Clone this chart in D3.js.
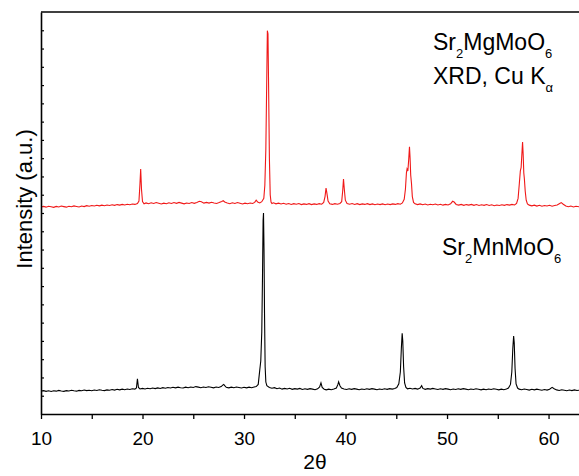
<html>
<head>
  <meta charset="UTF-8">
  <title>XRD Sr2MgMoO6 / Sr2MnMoO6</title>
  <script src="https://d3js.org/d3.v7.min.js"></script>
  <style>
    body { margin: 0; background: white; }
    text { font-family: Arial, "Liberation Sans", sans-serif; fill: black; }
  </style>
</head>
<body>
<svg id="chart"></svg>
<script>

    // 2theta / intensity (a.u., red trace is already offset upward in the figure)
    let mnPattern = [
        [10.0,1.25],[10.25,1.28],[10.5,1.24],[10.75,1.27],[11.0,1.23],[11.25,1.27],[11.5,1.25],[11.75,1.29],
        [12.0,1.26],[12.25,1.24],[12.5,1.28],[12.75,1.26],[13.0,1.30],[13.25,1.27],[13.5,1.25],[13.75,1.29],
        [14.0,1.27],[14.25,1.31],[14.5,1.28],[14.75,1.30],[15.0,1.27],[15.25,1.31],[15.5,1.29],[15.75,1.33],
        [16.0,1.30],[16.25,1.28],[16.5,1.32],[16.75,1.30],[17.0,1.34],[17.25,1.31],[17.5,1.35],[17.75,1.32],
        [18.0,1.36],[18.25,1.33],[18.5,1.37],[18.75,1.34],[19.0,1.38],[19.25,1.36],[19.4,1.42],[19.5,1.92],
        [19.6,1.45],[19.75,1.37],[20.0,1.40],[20.25,1.37],[20.5,1.41],[20.75,1.38],[21.0,1.42],[21.25,1.39],
        [21.5,1.43],[21.75,1.40],[22.0,1.44],[22.25,1.41],[22.5,1.45],[22.75,1.42],[23.0,1.46],[23.25,1.43],
        [23.5,1.47],[23.75,1.44],[24.0,1.42],[24.25,1.47],[24.5,1.44],[24.75,1.48],[25.0,1.45],[25.25,1.50],
        [25.5,1.47],[25.75,1.44],[26.0,1.48],[26.25,1.45],[26.5,1.49],[26.75,1.46],[27.0,1.43],[27.25,1.48],
        [27.5,1.45],[27.75,1.50],[27.9,1.58],[28.0,1.62],[28.1,1.55],[28.25,1.46],[28.5,1.43],[28.75,1.47],
        [29.0,1.44],[29.25,1.48],[29.5,1.45],[29.75,1.42],[30.0,1.46],[30.25,1.43],[30.5,1.47],[30.75,1.44],
        [31.0,1.48],[31.2,1.50],[31.4,1.62],[31.55,2.4],[31.65,2.9],[31.75,4.5],[31.82,7.5],[31.88,10.6],
        [31.92,11.0],[31.97,9.0],[32.02,5.5],[32.08,2.6],[32.15,1.75],[32.25,1.55],[32.5,1.45],[32.75,1.41],
        [33.0,1.44],[33.25,1.38],[33.5,1.42],[33.75,1.36],[34.0,1.40],[34.25,1.37],[34.5,1.41],[34.75,1.35],
        [35.0,1.39],[35.25,1.36],[35.5,1.40],[35.75,1.34],[36.0,1.38],[36.25,1.35],[36.5,1.39],[36.75,1.36],
        [37.0,1.33],[37.25,1.38],[37.45,1.48],[37.58,1.70],[37.7,1.45],[37.9,1.36],[38.1,1.32],[38.35,1.36],
        [38.6,1.33],[38.85,1.37],[39.1,1.42],[39.25,1.62],[39.32,1.76],[39.45,1.55],[39.6,1.42],[39.85,1.37],
        [40.1,1.34],[40.35,1.38],[40.6,1.35],[40.85,1.39],[41.1,1.36],[41.35,1.33],[41.6,1.37],[41.85,1.34],
        [42.1,1.38],[42.35,1.35],[42.6,1.39],[42.85,1.36],[43.1,1.33],[43.35,1.37],[43.6,1.34],[43.85,1.38],
        [44.1,1.35],[44.35,1.39],[44.6,1.36],[44.85,1.40],[45.05,1.45],[45.25,1.65],[45.4,2.3],[45.5,3.6],
        [45.58,4.42],[45.64,4.0],[45.72,2.6],[45.82,1.7],[45.95,1.45],[46.1,1.38],[46.35,1.41],[46.6,1.37],
        [46.85,1.40],[47.1,1.36],[47.35,1.42],[47.5,1.55],[47.62,1.40],[47.85,1.35],[48.1,1.39],[48.35,1.36],
        [48.6,1.40],[48.85,1.37],[49.1,1.34],[49.35,1.38],[49.6,1.35],[49.85,1.39],[50.1,1.36],[50.35,1.33],
        [50.6,1.37],[50.85,1.34],[51.1,1.38],[51.35,1.35],[51.6,1.39],[51.85,1.36],[52.1,1.33],[52.35,1.37],
        [52.6,1.34],[52.85,1.38],[53.1,1.35],[53.35,1.32],[53.6,1.36],[53.85,1.33],[54.1,1.37],[54.35,1.34],
        [54.6,1.38],[54.85,1.35],[55.1,1.32],[55.35,1.36],[55.6,1.33],[55.85,1.37],[56.05,1.42],[56.25,1.62],
        [56.38,2.3],[56.48,3.6],[56.56,4.27],[56.62,3.9],[56.7,2.5],[56.8,1.65],[56.95,1.42],[57.1,1.36],
        [57.35,1.33],[57.6,1.37],[57.85,1.34],[58.1,1.31],[58.35,1.35],[58.6,1.32],[58.85,1.36],[59.1,1.33],
        [59.35,1.30],[59.6,1.34],[59.85,1.31],[60.1,1.36],[60.35,1.46],[60.55,1.38],[60.8,1.32],[61.05,1.29],
        [61.3,1.33],[61.55,1.30],[61.8,1.27],[62.05,1.31],[62.3,1.28],[62.55,1.32],[62.8,1.29],[63.0,1.30]
    ];

    let mgPattern = [
        [10.0,11.33],[10.25,11.36],[10.5,11.32],[10.75,11.37],[11.0,11.34],[11.25,11.31],[11.5,11.36],[11.75,11.33],
        [12.0,11.38],[12.25,11.35],[12.5,11.32],[12.75,11.37],[13.0,11.34],[13.25,11.39],[13.5,11.36],[13.75,11.33],
        [14.0,11.38],[14.25,11.35],[14.5,11.40],[14.75,11.37],[15.0,11.41],[15.25,11.38],[15.5,11.42],[15.75,11.39],
        [16.0,11.43],[16.25,11.40],[16.5,11.44],[16.75,11.41],[17.0,11.45],[17.25,11.42],[17.5,11.46],[17.75,11.43],
        [18.0,11.47],[18.25,11.44],[18.5,11.48],[18.75,11.45],[19.0,11.49],[19.25,11.47],[19.5,11.52],[19.65,11.65],
        [19.75,12.6],[19.82,13.41],[19.9,12.3],[20.0,11.62],[20.15,11.50],[20.35,11.55],[20.6,11.51],[20.85,11.56],
        [21.1,11.52],[21.35,11.57],[21.6,11.53],[21.85,11.49],[22.1,11.54],[22.35,11.51],[22.6,11.56],[22.85,11.52],
        [23.1,11.57],[23.35,11.53],[23.6,11.58],[23.85,11.54],[24.1,11.50],[24.35,11.55],[24.6,11.52],[24.85,11.57],
        [25.1,11.53],[25.35,11.58],[25.6,11.64],[25.8,11.62],[26.05,11.54],[26.3,11.58],[26.55,11.54],[26.8,11.59],
        [27.05,11.55],[27.3,11.52],[27.55,11.57],[27.8,11.63],[27.95,11.67],[28.1,11.60],[28.35,11.55],[28.6,11.51],
        [28.85,11.56],[29.1,11.52],[29.35,11.57],[29.6,11.53],[29.85,11.49],[30.1,11.54],[30.35,11.51],[30.6,11.55],
        [30.85,11.52],[31.05,11.58],[31.2,11.70],[31.35,11.60],[31.55,11.55],[31.75,11.62],[31.95,11.8],[32.05,12.5],
        [32.15,14.5],[32.22,17.5],[32.3,20.98],[32.36,20.8],[32.42,18.0],[32.5,14.0],[32.58,12.0],[32.66,11.6],
        [32.75,11.52],[32.9,11.56],[33.15,11.50],[33.4,11.54],[33.65,11.49],[33.9,11.53],[34.15,11.48],[34.4,11.52],
        [34.65,11.47],[34.9,11.51],[35.15,11.48],[35.4,11.52],[35.65,11.46],[35.9,11.50],[36.15,11.47],[36.4,11.51],
        [36.65,11.46],[36.9,11.50],[37.15,11.47],[37.4,11.51],[37.65,11.48],[37.85,11.58],[37.98,11.9],[38.08,12.37],
        [38.16,12.1],[38.28,11.65],[38.45,11.50],[38.7,11.47],[38.95,11.51],[39.2,11.48],[39.45,11.52],[39.62,11.62],
        [39.72,12.2],[39.8,12.86],[39.88,12.3],[39.98,11.7],[40.15,11.52],[40.4,11.48],[40.65,11.52],[40.9,11.47],
        [41.15,11.51],[41.4,11.46],[41.65,11.50],[41.9,11.47],[42.15,11.51],[42.4,11.46],[42.65,11.50],[42.9,11.45],
        [43.15,11.49],[43.4,11.46],[43.65,11.50],[43.9,11.45],[44.15,11.49],[44.4,11.46],[44.65,11.50],[44.9,11.47],
        [45.15,11.51],[45.4,11.48],[45.6,11.55],[45.78,11.75],[45.9,12.3],[46.0,13.2],[46.06,13.41],[46.14,13.3],
        [46.22,13.9],[46.3,14.63],[46.36,14.0],[46.42,13.08],[46.5,12.6],[46.58,11.9],[46.7,11.58],[46.85,11.50],
        [47.1,11.46],[47.35,11.50],[47.6,11.45],[47.85,11.49],[48.1,11.44],[48.35,11.48],[48.6,11.45],[48.85,11.49],
        [49.1,11.44],[49.35,11.48],[49.6,11.43],[49.85,11.47],[50.1,11.44],[50.35,11.50],[50.55,11.64],[50.7,11.60],
        [50.9,11.47],[51.15,11.43],[51.4,11.47],[51.65,11.42],[51.9,11.46],[52.15,11.43],[52.4,11.47],[52.65,11.42],
        [52.9,11.46],[53.15,11.41],[53.4,11.45],[53.65,11.42],[53.9,11.46],[54.15,11.41],[54.4,11.45],[54.65,11.40],
        [54.9,11.44],[55.15,11.41],[55.4,11.45],[55.65,11.42],[55.9,11.46],[56.15,11.43],[56.4,11.47],[56.65,11.44],
        [56.85,11.52],[57.0,11.8],[57.12,12.6],[57.22,13.3],[57.3,13.5],[57.38,14.3],[57.44,14.89],[57.5,14.2],
        [57.56,13.2],[57.62,12.86],[57.7,12.2],[57.8,11.7],[57.92,11.50],[58.1,11.43],[58.35,11.39],[58.6,11.43],
        [58.85,11.38],[59.1,11.42],[59.35,11.37],[59.6,11.41],[59.85,11.38],[60.1,11.42],[60.35,11.37],[60.6,11.41],
        [60.85,11.44],[61.1,11.52],[61.25,11.57],[61.45,11.48],[61.7,11.38],[61.95,11.34],[62.2,11.38],[62.45,11.33],
        [62.7,11.37],[63.0,11.34]
    ];

    let xTicks = [10, 15, 20, 25, 30, 35, 40, 45, 50, 55, 60];
    let xLabels = [10, 20, 30, 40, 50, 60];
    let yTicks = [1,2,3,4,5,6,7,8,9,10,11,12,13,14,15,16,17,18,19,20,21];

    let width = 579;
    let height = 476;
    let margin = { top: 12, right: 0, bottom: 62, left: 41 };

    let svg = d3.select("#chart")
                .attr("width", width)
                .attr("height", height);

    let xScale = d3.scaleLinear().domain([10, 63]).range([margin.left, width - margin.right]);
    let yScale = d3.scaleLinear().domain([0, 22]).range([height - margin.bottom, margin.top]);

    svg.append("clipPath").attr("id", "plotClip")
       .append("rect")
       .attr("x", margin.left).attr("y", margin.top)
       .attr("width", width - margin.left - margin.right)
       .attr("height", height - margin.top - margin.bottom);

    let line = d3.line()
                 .x(d => xScale(d[0]))
                 .y(d => yScale(d[1]));

    svg.append("path")
       .datum(mnPattern)
       .attr("clip-path", "url(#plotClip)")
       .attr("fill", "none")
       .attr("stroke", "black")
       .attr("stroke-width", 1.1)
       .attr("d", line);

    svg.append("path")
       .datum(mgPattern)
       .attr("clip-path", "url(#plotClip)")
       .attr("fill", "none")
       .attr("stroke", "#f01818")
       .attr("stroke-width", 1.1)
       .attr("d", line);

    // axes
    let xAxis = d3.axisBottom(xScale)
                  .tickValues(xTicks)
                  .tickSize(5)
                  .tickSizeOuter(0)
                  .tickFormat(d => xLabels.includes(d) ? d : "");

    let gx = svg.append("g")
                .attr("transform", `translate(0,${height - margin.bottom})`)
                .call(xAxis);
    gx.select(".domain").attr("stroke-width", 1.6);
    gx.selectAll(".tick line").attr("stroke-width", 1.3);
    gx.selectAll(".tick text")
      .attr("y", 31).attr("dy", 0)
      .style("font-size", "19px")
      .style("font-family", "Arial, 'Liberation Sans', sans-serif");

    let yAxis = d3.axisLeft(yScale)
                  .tickValues(yTicks)
                  .tickSize(-3)
                  .tickSizeOuter(0)
                  .tickFormat("");

    let gy = svg.append("g")
                .attr("transform", `translate(${margin.left},0)`)
                .call(yAxis);
    gy.select(".domain").attr("stroke-width", 1.6);
    gy.selectAll(".tick line").attr("stroke-width", 1.2);

    // top frame line
    svg.append("line")
       .attr("x1", margin.left).attr("x2", width)
       .attr("y1", margin.top).attr("y2", margin.top)
       .attr("stroke", "black")
       .attr("stroke-width", 1.6);

    // axis titles
    svg.append("text")
       .attr("x", 315).attr("y", 469)
       .attr("text-anchor", "middle")
       .style("font-size", "21px")
       .text("2θ");

    svg.append("text")
       .attr("transform", "translate(32,199) rotate(-90)")
       .attr("text-anchor", "middle")
       .style("font-size", "22px")
       .text("Intensity (a.u.)");

    // labels
    function formula(x, y, parts) {
        let t = svg.append("text").attr("x", x).attr("y", y).style("font-size", "23px");
        parts.forEach(p => {
            if (p.sub) {
                t.append("tspan").attr("dy", 8).style("font-size", "13px").text(p.s);
            } else {
                t.append("tspan").attr("dy", p.after ? -8 : 0).text(p.s);
            }
        });
        return t;
    }

    formula(433, 50, [{s: "Sr"}, {s: "2", sub: true}, {s: "MgMoO", after: true}, {s: "6", sub: true}]);
    formula(433, 84, [{s: "XRD, Cu K"}, {s: "α", sub: true}]);
    formula(442, 255, [{s: "Sr"}, {s: "2", sub: true}, {s: "MnMoO", after: true}, {s: "6", sub: true}]);

</script>
</body>
</html>
